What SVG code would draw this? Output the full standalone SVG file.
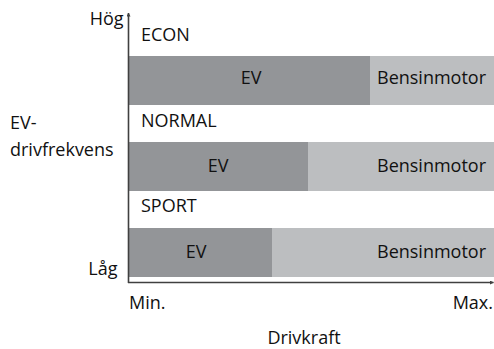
<svg xmlns="http://www.w3.org/2000/svg" width="494" height="349" viewBox="0 0 494 349">
<defs>
<style>
text{font-family:"Open Sans","Noto Sans","Liberation Sans",sans-serif;font-size:18px;fill:#111}
.ev{fill:#939598}
.gas{fill:#bcbec0}
.axis{stroke:#404040;stroke-width:1.6;fill:none}
.mid{text-anchor:middle}
.end{text-anchor:end}
</style>
<marker id="arr" viewBox="0 0 10 10" refX="9" refY="5" markerWidth="4" markerHeight="4" markerUnits="userSpaceOnUse" orient="auto">
<path d="M0,0 L10,5 L0,10 z" fill="#404040"/>
</marker>
</defs>
<g id="bar-econ">
<rect class="gas" x="129" y="56" width="365" height="49"/>
<rect class="ev" x="129" y="56" width="241" height="49"/>
<text class="mid" x="251" y="84.3">EV</text>
<text x="377" y="84.3">Bensinmotor</text>
</g>
<g id="bar-normal">
<rect class="gas" x="129" y="142" width="365" height="49"/>
<rect class="ev" x="129" y="142" width="179" height="49"/>
<text class="mid" x="218" y="172">EV</text>
<text x="377" y="172">Bensinmotor</text>
</g>
<g id="bar-sport">
<rect class="gas" x="129" y="228" width="365" height="49"/>
<rect class="ev" x="129" y="228" width="143" height="49"/>
<text class="mid" x="196" y="258">EV</text>
<text x="377" y="258">Bensinmotor</text>
</g>
<g id="mode-labels">
<text x="141" y="40.7">ECON</text>
<text x="141" y="126.7">NORMAL</text>
<text x="141" y="212.3">SPORT</text>
</g>
<g id="connectors">
<path class="axis" d="M128.5,283 L128.5,13" marker-end="url(#arr)"/>
<path class="axis" d="M128,282.5 L493.5,282.5" marker-end="url(#arr)"/>
</g>
<g id="axis-labels">
<text class="end" x="123.5" y="25">Hög</text>
<text class="end" x="117.5" y="275">Låg</text>
<text x="10" y="129.3">EV-</text>
<text x="10" y="156">drivfrekvens</text>
<text x="129" y="309">Min.</text>
<text class="end" x="493" y="309">Max.</text>
<text class="mid" x="304" y="344">Drivkraft</text>
</g>
</svg>
